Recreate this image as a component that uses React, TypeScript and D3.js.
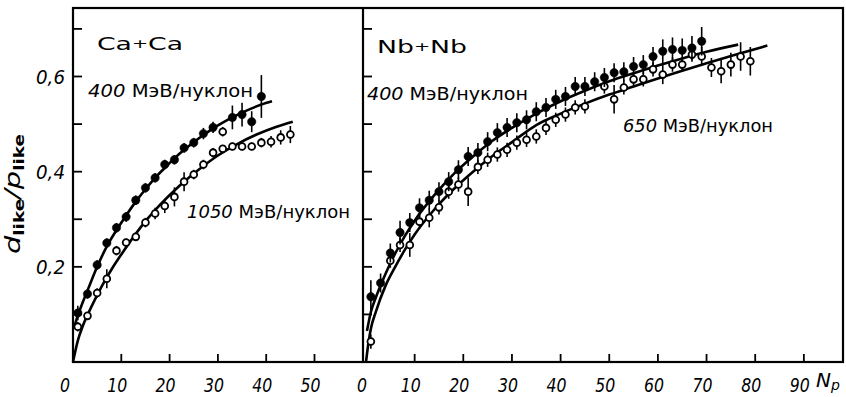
import React from "react";
import * as d3 from "d3";

// ---------- data ----------
// Ca+Ca, 400 MeV/nucleon (filled)
const caNp400 = [1, 3, 5, 7, 9, 11, 13, 15, 17, 19, 21, 23, 25, 27, 29, 33, 35, 37, 39];
const caVal400 = [0.103, 0.143, 0.204, 0.25, 0.282, 0.305, 0.34, 0.366, 0.387, 0.415, 0.425, 0.45, 0.461, 0.48, 0.493, 0.514, 0.52, 0.505, 0.558];
const caErr400 = [0.015, 0.01, 0.01, 0.01, 0.01, 0.01, 0.01, 0.01, 0.01, 0.01, 0.01, 0.01, 0.01, 0.012, 0.012, 0.025, 0.025, 0.022, 0.045];
// Ca+Ca, 1050 MeV/nucleon (open)
const caNp1050 = [1, 3, 5, 7, 9, 11, 13, 15, 17, 19, 21, 23, 25, 27, 29, 31, 31, 33, 35, 37, 39, 41, 43, 45];
const caVal1050 = [0.074, 0.097, 0.145, 0.175, 0.234, 0.251, 0.263, 0.293, 0.312, 0.328, 0.347, 0.379, 0.394, 0.415, 0.44, 0.484, 0.448, 0.453, 0.453, 0.453, 0.461, 0.463, 0.472, 0.478];
const caErr1050 = [0.01, 0.008, 0.01, 0.02, 0.01, 0.008, 0.008, 0.01, 0.012, 0.015, 0.02, 0.02, 0.01, 0.01, 0.01, 0.01, 0.008, 0.008, 0.008, 0.008, 0.01, 0.012, 0.015, 0.018];
// fitted curves, Ca+Ca
const caCurve400Np = [0.3, 1, 2, 3, 5, 7, 9, 11, 13, 15, 17, 19, 21, 23, 25, 27, 29, 31, 33, 35, 37, 39, 41.2];
const caCurve400V = [0.075, 0.098, 0.125, 0.15, 0.2, 0.243, 0.277, 0.308, 0.337, 0.363, 0.387, 0.408, 0.428, 0.446, 0.462, 0.477, 0.491, 0.503, 0.514, 0.524, 0.533, 0.541, 0.548];
const caCurve1050Np = [0, 1, 2, 4, 6, 8, 10, 14, 18, 22, 26, 30, 34, 38, 42, 45.5];
const caCurve1050V = [0, 0.045, 0.075, 0.12, 0.16, 0.195, 0.226, 0.283, 0.33, 0.37, 0.404, 0.434, 0.458, 0.478, 0.494, 0.505];

// Nb+Nb, 400 MeV/nucleon (filled)
const nbNp400 = [1, 3, 5, 7, 9, 11, 13, 15, 17, 19, 21, 23, 25, 27, 29, 31, 33, 35, 37, 39, 41, 43, 45, 47, 49, 51, 53, 55, 57, 59, 61, 63, 65, 67, 69];
const nbVal400 = [0.137, 0.166, 0.229, 0.272, 0.293, 0.324, 0.34, 0.358, 0.379, 0.404, 0.432, 0.44, 0.463, 0.482, 0.493, 0.503, 0.509, 0.526, 0.535, 0.552, 0.558, 0.579, 0.579, 0.589, 0.598, 0.608, 0.61, 0.621, 0.625, 0.642, 0.653, 0.657, 0.655, 0.66, 0.674];
const nbErr400 = [0.035, 0.02, 0.02, 0.025, 0.02, 0.02, 0.02, 0.02, 0.02, 0.02, 0.02, 0.02, 0.02, 0.02, 0.02, 0.02, 0.02, 0.02, 0.02, 0.02, 0.02, 0.02, 0.02, 0.02, 0.02, 0.02, 0.02, 0.02, 0.02, 0.02, 0.025, 0.025, 0.025, 0.025, 0.03];
// Nb+Nb, 650 MeV/nucleon (open)
const nbNp650 = [1, 5, 7, 9, 11, 13, 15, 17, 19, 21, 23, 25, 27, 29, 31, 33, 35, 37, 39, 41, 43, 45, 49, 51, 53, 55, 57, 59, 61, 63, 65, 67, 69, 71, 73, 75, 77, 79];
const nbVal650 = [0.043, 0.213, 0.246, 0.246, 0.295, 0.303, 0.325, 0.358, 0.373, 0.358, 0.41, 0.425, 0.436, 0.446, 0.461, 0.467, 0.474, 0.492, 0.509, 0.52, 0.535, 0.537, 0.579, 0.552, 0.577, 0.594, 0.594, 0.615, 0.604, 0.625, 0.625, 0.646, 0.642, 0.619, 0.611, 0.625, 0.642, 0.632];
const nbErr650 = [0.015, 0.015, 0.015, 0.025, 0.015, 0.02, 0.015, 0.015, 0.015, 0.03, 0.015, 0.015, 0.015, 0.015, 0.015, 0.015, 0.015, 0.015, 0.015, 0.015, 0.015, 0.015, 0.015, 0.03, 0.015, 0.015, 0.015, 0.015, 0.02, 0.015, 0.015, 0.015, 0.02, 0.02, 0.025, 0.025, 0.03, 0.03];
// fitted curves, Nb+Nb
const nbCurve400Np = [0.2, 1, 2, 4, 6, 8, 10, 14, 18, 22, 26, 30, 35, 40, 45, 50, 55, 60, 65, 70, 76.5];
const nbCurve400V = [0.065, 0.105, 0.135, 0.185, 0.228, 0.265, 0.297, 0.35, 0.395, 0.432, 0.465, 0.492, 0.522, 0.548, 0.57, 0.59, 0.607, 0.623, 0.638, 0.652, 0.667];
const nbCurve650Np = [0, 0.5, 1, 2, 4, 6, 8, 10, 14, 18, 22, 26, 30, 35, 40, 45, 50, 55, 60, 65, 70, 75, 82.5];
const nbCurve650V = [0, 0.04, 0.07, 0.105, 0.16, 0.2, 0.236, 0.268, 0.32, 0.363, 0.4, 0.433, 0.462, 0.498, 0.522, 0.543, 0.562, 0.579, 0.596, 0.612, 0.628, 0.643, 0.665];

// ticks
const yTicks = [0.1, 0.2, 0.3, 0.4, 0.5, 0.6, 0.7];
const yTickLabels = [
  { v: 0.2, t: "0,2" },
  { v: 0.4, t: "0,4" },
  { v: 0.6, t: "0,6" },
];
const xTicksL = [0, 10, 20, 30, 40, 50];
const xTicksR = [0, 10, 20, 30, 40, 50, 60, 70, 80, 90];

// ---------- layout ----------
const W = 846;
const H = 397;
const TOP = 8;
const BOTTOM = 362;
const LEFT = 73;
const MID = 363;
const RIGHT = 843;

const y = d3.scaleLinear().domain([0, 0.6]).range([BOTTOM, 76.5]);
const xL = d3.scaleLinear().domain([0, 10]).range([LEFT, LEFT + 48.3]);
const xR = d3.scaleLinear().domain([0, 10]).range([366, 366 + 48.65]);

const FONT = "'DejaVu Sans', 'Liberation Sans', sans-serif";

function Series({ x, np, vals, errs, filled }: any) {
  return (
    <g>
      {np.map((n: number, i: number) => (
        <line
          key={"e" + i}
          x1={x(n)}
          x2={x(n)}
          y1={y(vals[i] - errs[i])}
          y2={y(vals[i] + errs[i])}
          stroke="#000"
          strokeWidth={1.6}
        />
      ))}
      {np.map((n: number, i: number) => (
        <circle
          key={"c" + i}
          cx={x(n)}
          cy={y(vals[i])}
          r={filled ? 4.2 : 3.4}
          fill={filled ? "#000" : "#fff"}
          stroke="#000"
          strokeWidth={filled ? 0.5 : 1.8}
        />
      ))}
    </g>
  );
}

function Curve({ x, np, vals }: any) {
  const line = d3
    .line<number>()
    .x((d, i) => x(np[i]))
    .y((d) => y(d))
    .curve(d3.curveMonotoneX);
  return <path d={line(vals) || ""} fill="none" stroke="#000" strokeWidth={2.6} />;
}

function Label({ x, yb, num, len }: any) {
  return (
    <text x={x} y={yb} fontFamily={FONT} fontSize={18} textLength={len} lengthAdjust="spacingAndGlyphs">
      <tspan fontStyle="italic">{num}</tspan>
      <tspan> МэВ/нуклон</tspan>
    </text>
  );
}

export default function App() {
  return (
    <svg width={W} height={H} style={{ position: "absolute", left: 0, top: 0, background: "#fff" }}>
      <rect x={0} y={0} width={W} height={H} fill="#fff" />
      {/* frames */}
      <rect x={LEFT} y={TOP} width={RIGHT - LEFT} height={BOTTOM - TOP} fill="none" stroke="#000" strokeWidth={2.2} />
      <line x1={MID} x2={MID} y1={TOP} y2={BOTTOM} stroke="#000" strokeWidth={2.2} />

      {/* y ticks */}
      {yTicks.map((v) => (
        <g key={"yt" + v}>
          <line x1={LEFT} x2={LEFT + 9} y1={y(v)} y2={y(v)} stroke="#000" strokeWidth={1.8} />
          <line x1={MID} x2={MID + 9} y1={y(v)} y2={y(v)} stroke="#000" strokeWidth={1.8} />
        </g>
      ))}
      {yTickLabels.map((d) => (
        <text
          key={"yl" + d.t}
          x={36}
          y={y(d.v) + 7}
          fontFamily={FONT}
          fontStyle="italic"
          fontSize={19}
          textLength={29}
          lengthAdjust="spacingAndGlyphs"
        >
          {d.t}
        </text>
      ))}

      {/* x ticks */}
      {xTicksL.slice(1).map((t) => (
        <line key={"xtl" + t} x1={xL(t)} x2={xL(t)} y1={BOTTOM} y2={BOTTOM - 8} stroke="#000" strokeWidth={1.8} />
      ))}
      {xTicksR.slice(1).map((t) => (
        <line key={"xtr" + t} x1={xR(t)} x2={xR(t)} y1={BOTTOM} y2={BOTTOM - 8} stroke="#000" strokeWidth={1.8} />
      ))}
      {xTicksL.map((t) => (
        <text
          key={"xll" + t}
          x={xL(t) - (t === 0 ? 8 : 4)}
          y={392}
          textAnchor="middle"
          fontFamily={FONT}
          fontStyle="italic"
          fontSize={20}
          textLength={t === 0 ? 10 : 20}
          lengthAdjust="spacingAndGlyphs"
        >
          {String(t)}
        </text>
      ))}
      {xTicksR.map((t) => (
        <text
          key={"xlr" + t}
          x={xR(t) - 4}
          y={392}
          textAnchor="middle"
          fontFamily={FONT}
          fontStyle="italic"
          fontSize={20}
          textLength={t === 0 ? 10 : 20}
          lengthAdjust="spacingAndGlyphs"
        >
          {String(t)}
        </text>
      ))}
      <text x={816} y={387} fontFamily={FONT} fontStyle="italic" fontSize={20}>
        N
        <tspan fontSize={14} dy={3}>p</tspan>
      </text>

      {/* y title */}
      <text
        transform="translate(20,254) rotate(-90)"
        fontFamily={FONT}
        fontSize={22}
        textLength={120}
        lengthAdjust="spacingAndGlyphs"
      >
        <tspan fontStyle="italic">d</tspan>
        <tspan fontSize={14} fontWeight="bold" dy={4}>like</tspan>
        <tspan fontStyle="italic" dy={-4}>/p</tspan>
        <tspan fontSize={14} fontWeight="bold" dy={4}>like</tspan>
      </text>

      {/* curves */}
      <Curve x={xL} np={caCurve400Np} vals={caCurve400V} />
      <Curve x={xL} np={caCurve1050Np} vals={caCurve1050V} />
      <Curve x={xR} np={nbCurve400Np} vals={nbCurve400V} />
      <Curve x={xR} np={nbCurve650Np} vals={nbCurve650V} />

      {/* data */}
      <Series x={xL} np={caNp1050} vals={caVal1050} errs={caErr1050} filled={false} />
      <Series x={xL} np={caNp400} vals={caVal400} errs={caErr400} filled={true} />
      <Series x={xR} np={nbNp650} vals={nbVal650} errs={nbErr650} filled={false} />
      <Series x={xR} np={nbNp400} vals={nbVal400} errs={nbErr400} filled={true} />

      {/* panel labels */}
      <text x={97} y={50} fontFamily={FONT} fontSize={18} textLength={86} lengthAdjust="spacingAndGlyphs">
        Ca<tspan fontSize={13} dy={-2}>+</tspan><tspan dy={2}>Ca</tspan>
      </text>
      <text x={377} y={53} fontFamily={FONT} fontSize={18} textLength={90} lengthAdjust="spacingAndGlyphs">
        Nb<tspan fontSize={13} dy={-2}>+</tspan><tspan dy={2}>Nb</tspan>
      </text>
      <Label x={88} yb={97} num="400" len={165} />
      <Label x={187} yb={218} num="1050" len={163} />
      <Label x={367} yb={100} num="400" len={161} />
      <Label x={623} yb={132} num="650" len={150} />
    </svg>
  );
}
